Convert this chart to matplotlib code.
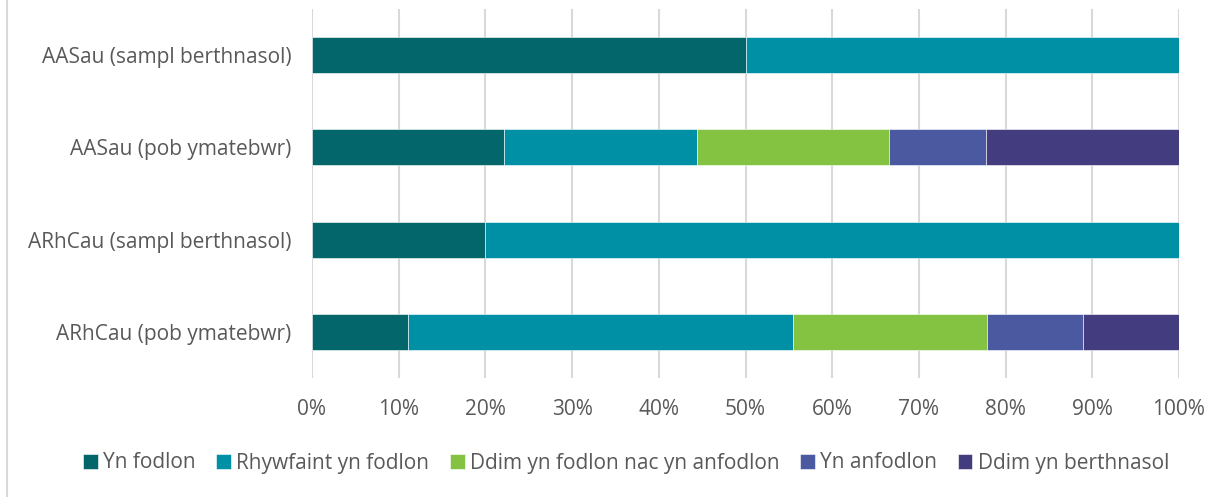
import matplotlib
matplotlib.use("Agg")
import matplotlib.pyplot as plt
from matplotlib.lines import Line2D

categories = ["AASau (sampl berthnasol)", "AASau (pob ymatebwr)",
              "ARhCau (sampl berthnasol)", "ARhCau (pob ymatebwr)"]
series_names = ["Yn fodlon", "Rhywfaint yn fodlon", "Ddim yn fodlon nac yn anfodlon",
                "Yn anfodlon", "Ddim yn berthnasol"]
yn_fodlon = [50.0, 22.2, 20.0, 11.1]
rhywfaint = [50.0, 22.2, 80.0, 44.4]
ddim_fodlon_nac = [0.0, 22.2, 0.0, 22.3]
yn_anfodlon = [0.0, 11.1, 0.0, 11.1]
ddim_berthnasol = [0.0, 22.3, 0.0, 11.1]
series_values = [yn_fodlon, rhywfaint, ddim_fodlon_nac, yn_anfodlon, ddim_berthnasol]
colors = ["#02666A", "#0090A5", "#84C341", "#4A59A0", "#433C7F"]
tick_labels = [f"{v}%" for v in range(0, 101, 10)]

plt.rcParams['font.family'] = ['Open Sans', 'DejaVu Sans']
fig = plt.figure(figsize=(12.28, 4.97), dpi=100)
ax = fig.add_axes([312/1228, 1-378/497, 867/1228, 369/497])

ypos = list(range(len(categories)))[::-1]
left = [0.0]*len(categories)
handles = []
for name, vals, c in zip(series_names, series_values, colors):
    b = ax.barh(ypos, vals, left=left, height=0.39, color=c, edgecolor="white",
                linewidth=0.4, label=name, zorder=3)
    handles.append(b)
    left = [l+v for l, v in zip(left, vals)]

ax.set_xlim(0, 100)
ax.set_ylim(-0.5, 3.5)
ax.set_xticks(range(0, 101, 10))
ax.set_xticklabels(tick_labels)
ax.set_yticks(ypos)
ax.set_yticklabels(categories)
ax.tick_params(axis='both', length=0, labelsize=15, colors="#595959")
ax.tick_params(axis='x', pad=15)
ax.tick_params(axis='y', pad=15)
ax.grid(axis='x', color="#D9D9D9", linewidth=1.5, zorder=0)
for s in ax.spines.values():
    s.set_visible(False)

fig.legend(handles=handles, labels=series_names, loc="center", bbox_to_anchor=(626/1228, 1-463/497),
           ncol=5, frameon=False, fontsize=15, labelcolor="#595959",
           handlelength=0.7, handleheight=0.7, handletextpad=0.25, columnspacing=1.0)

fig.add_artist(Line2D([6.5/1228, 6.5/1228], [0, 1], transform=fig.transFigure,
                      color="#D9D9D9", linewidth=1.5))
fig.savefig("out.png", dpi=100)
